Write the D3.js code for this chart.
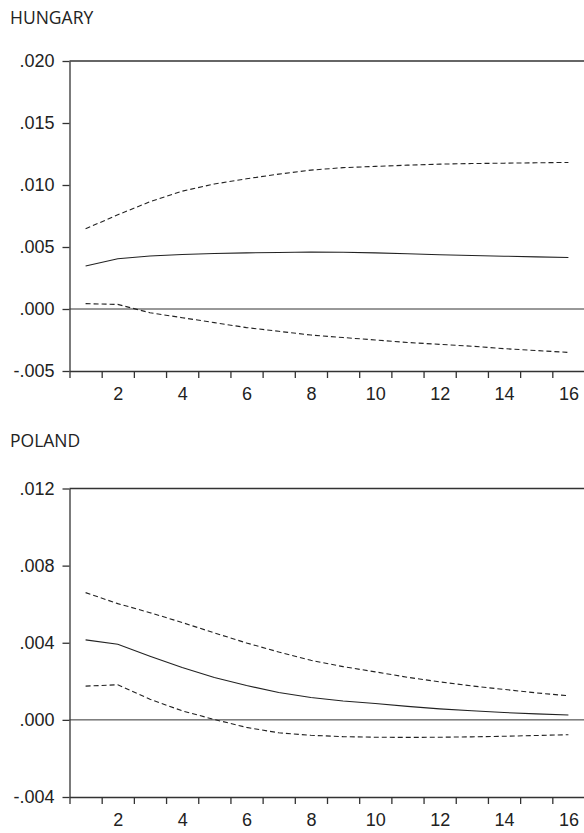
<!DOCTYPE html>
<html lang="en">
<head>
    <meta charset="UTF-8">
    <title>Impulse responses</title>
    <script src="https://d3js.org/d3.v7.min.js"></script>
    <style>
        body { margin: 0; background: #fff; }
        text.title {
            fill: #222;
            font-size: 17.5px;
            font-family: 'Open Sans', sans-serif;
        }
        .tick text {
            fill: #222;
            font-size: 18px;
            font-family: 'Liberation Sans', Arial, sans-serif;
        }
        .domain, .tick line { stroke: #333; stroke-width: 1.3; }
    </style>
</head>
<body>
<svg height="833" width="584"></svg>
<script>
    const periods = d3.range(1, 17);

    const hunMid = [.00347, .00405, .00427, .0044, .00448, .00453, .00456, .0046,
                    .00458, .00453, .00446, .00438, .00432, .00426, .0042, .00415];
    const hunUp  = [.00647, .0076, .00865, .0095, .01008, .0105, .01088, .0112,
                    .0114, .0115, .0116, .01168, .01173, .01176, .01179, .01182];
    const hunLow = [.00043, .00037, -.0003, -.0007, -.0011, -.0015, -.0018, -.0021,
                    -.0023, -.0025, -.0027, -.00285, -.003, -.0032, -.00335, -.0035];

    const polMid = [.00415, .00392, .0033, .00272, .0022, .00178, .00142, .00116,
                    .00098, .00085, .0007, .00057, .00047, .00038, .00031, .00025];
    const polUp  = [.0066, .00603, .00556, .00505, .00451, .00399, .00352, .00309,
                    .00276, .00249, .00221, .00197, .00176, .00158, .0014, .00125];
    const polLow = [.00175, .00182, .00107, .00047, .00002, -.00039, -.00067, -.0008,
                    -.00087, -.0009, -.00091, -.0009, -.00088, -.00085, -.00081, -.00077];

    const hunTicks = [-.005, .000, .005, .010, .015, .020];
    const polTicks = [-.004, .000, .004, .008, .012];
    const xLabels = [2, 4, 6, 8, 10, 12, 14, 16];

    const svg = d3.select("svg");
    const x = d3.scaleLinear().domain([0.5, 16.5]).range([69.5, 584.5]);
    // EViews style: ".005", "-.005" with a plain hyphen
    const fmt = v => d3.format(".3f")(v).replace("\u2212", "-").replace("0.", ".");

    drawPanel("HUNGARY", 24, 61, 371, [-.005, .020], hunTicks, hunMid, hunUp, hunLow);
    drawPanel("POLAND", 447, 488.5, 797, [-.004, .012], polTicks, polMid, polUp, polLow);

    function drawPanel(name, titleY, top, bottom, dom, yTicks, mid, up, low) {
        const y = d3.scaleLinear().domain(dom).range([bottom, top]);
        const g = svg.append("g");

        g.append("text").attr("class", "title")
            .attr("x", 10).attr("y", titleY).text(name);

        // frame (right edge falls outside the picture)
        g.append("line").attr("x1", x.range()[0]).attr("x2", 590)
            .attr("y1", top).attr("y2", top)
            .attr("stroke", "#333").attr("stroke-width", 1.3);

        g.append("g").attr("transform", `translate(${x.range()[0]},0)`)
            .call(d3.axisLeft(y).tickValues(yTicks).tickSize(7).tickSizeOuter(0)
                .tickPadding(8).tickFormat(fmt));

        // ticks at the period boundaries
        g.append("g").attr("transform", `translate(0,${bottom})`)
            .call(d3.axisBottom(x).tickValues(d3.range(0.5, 16.6, 1)).tickSize(7)
                .tickSizeOuter(0).tickFormat(""));
        const lab = g.append("g").attr("transform", `translate(0,${bottom})`)
            .call(d3.axisBottom(x).tickValues(xLabels).tickSize(0).tickPadding(16));
        lab.select(".domain").remove();

        g.append("line").attr("x1", x.range()[0]).attr("x2", 590)
            .attr("y1", y(0)).attr("y2", y(0))
            .attr("stroke", "#333").attr("stroke-width", 1);

        const line = d3.line().x((d, i) => x(periods[i])).y(d => y(d));
        g.append("path").datum(mid).attr("d", line)
            .attr("fill", "none").attr("stroke", "#222").attr("stroke-width", 1.1);
        [up, low].forEach(s => {
            g.append("path").datum(s).attr("d", line)
                .attr("fill", "none").attr("stroke", "#222").attr("stroke-width", 1.1)
                .attr("stroke-dasharray", "5,3");
        });
    }
</script>
</body>
</html>
